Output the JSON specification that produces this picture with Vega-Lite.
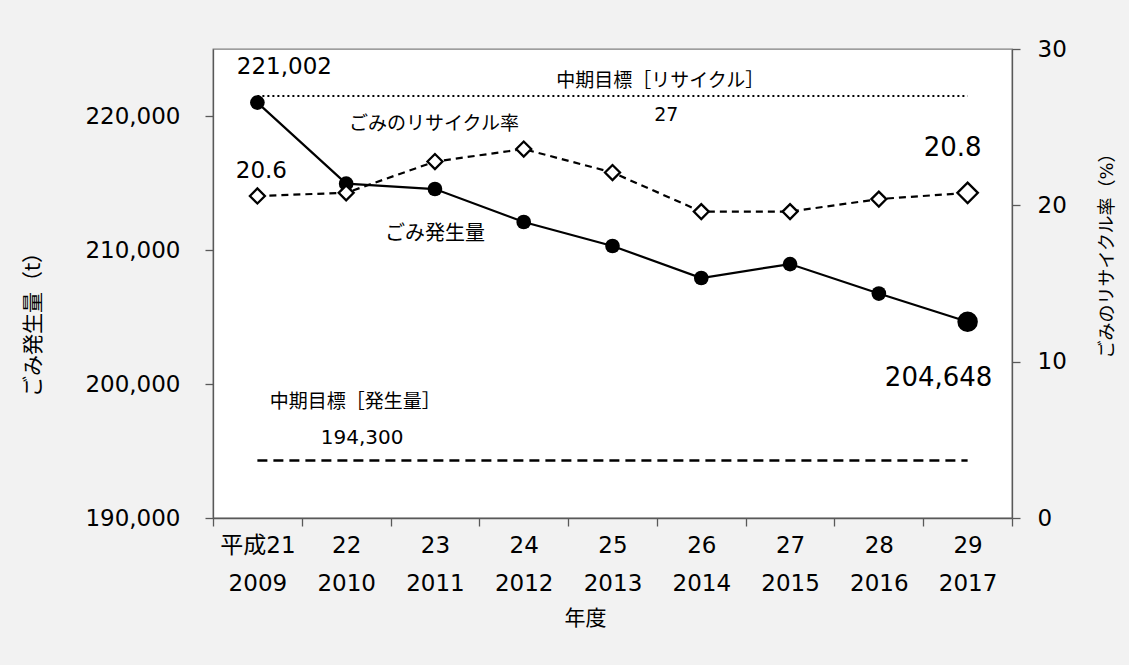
{
  "$schema": "https://vega.github.io/schema/vega-lite/v6.json",
  "width": 799,
  "height": 469,
  "autosize": {"type": "none"},
  "padding": {"left": 213, "top": 49, "right": 117, "bottom": 147},
  "background": "#f2f2f2",
  "datasets": {
    "main": [
      {"period": "平成21 2009", "gen": 221002, "rate": 20.6, "genTarget": 194300, "rateTarget": 27},
      {"period": "22 2010", "gen": 214950, "rate": 20.8, "genTarget": 194300, "rateTarget": 27},
      {"period": "23 2011", "gen": 214550, "rate": 22.8, "genTarget": 194300, "rateTarget": 27},
      {"period": "24 2012", "gen": 212090, "rate": 23.6, "genTarget": 194300, "rateTarget": 27},
      {"period": "25 2013", "gen": 210300, "rate": 22.1, "genTarget": 194300, "rateTarget": 27},
      {"period": "26 2014", "gen": 207910, "rate": 19.6, "genTarget": 194300, "rateTarget": 27},
      {"period": "27 2015", "gen": 208950, "rate": 19.6, "genTarget": 194300, "rateTarget": 27},
      {"period": "28 2016", "gen": 206750, "rate": 20.4, "genTarget": 194300, "rateTarget": 27},
      {"period": "29 2017", "gen": 204648, "rate": 20.8, "genTarget": 194300, "rateTarget": 27}
    ]
  },
  "data": {"name": "main"},
  "encoding": {
    "x": {
      "field": "period",
      "type": "nominal",
      "sort": null,
      "scale": {"type": "band", "paddingInner": 0, "paddingOuter": 0},
      "axis": {
        "title": "年度",
        "labelAngle": 0,
        "labelExpr": "split(datum.label, ' ')",
        "labelFontSize": 23,
        "labelLineHeight": 38,
        "labelPadding": 8,
        "tickBand": "extent",
        "tickSize": 8,
        "titleFontSize": 21,
        "titleX": 372,
        "titleY": 100,
        "titleAlign": "center",
        "titleBaseline": "middle"
      }
    }
  },
  "layer": [
    {
      "layer": [
        {
          "mark": {"type": "line", "color": "black", "strokeWidth": 2.5, "strokeDash": [10, 6]},
          "encoding": {
            "y": {
              "field": "genTarget",
              "type": "quantitative",
              "scale": {"domain": [190000, 225000], "zero": false, "nice": false},
              "axis": {
                "title": "ごみ発生量（t）",
                "values": [190000, 200000, 210000, 220000],
                "labelExpr": "format(datum.value, ',')",
                "labelFontSize": 23,
                "labelPadding": 25,
                "tickSize": 8,
                "titleFontSize": 21,
                "titleAngle": -90,
                "titleX": -180,
                "titleY": 270,
                "titleAlign": "center",
                "titleBaseline": "middle"
              }
            }
          }
        },
        {
          "mark": {"type": "line", "color": "black", "strokeWidth": 2.2},
          "encoding": {"y": {"field": "gen", "type": "quantitative"}}
        },
        {
          "mark": {"type": "point", "shape": "circle", "filled": true, "color": "black", "opacity": 1},
          "encoding": {
            "y": {"field": "gen", "type": "quantitative"},
            "size": {"condition": {"test": "datum.period == '29 2017'", "value": 420}, "value": 215}
          }
        },
        {
          "transform": [{"filter": "datum.period == '平成21 2009'"}],
          "mark": {"type": "text", "fontSize": 23, "dx": 27, "dy": -36, "align": "center", "baseline": "middle", "color": "black"},
          "encoding": {"y": {"field": "gen", "type": "quantitative"}, "text": {"field": "gen", "type": "quantitative", "format": ","}}
        },
        {
          "transform": [{"filter": "datum.period == '29 2017'"}],
          "mark": {"type": "text", "fontSize": 26, "dx": -29, "dy": 56, "align": "center", "baseline": "middle", "color": "black"},
          "encoding": {"y": {"field": "gen", "type": "quantitative"}, "text": {"field": "gen", "type": "quantitative", "format": ","}}
        },
        {
          "transform": [{"filter": "datum.period == '23 2011'"}],
          "mark": {"type": "text", "fontSize": 20, "dx": 0, "dy": 45, "align": "center", "baseline": "middle", "color": "black", "text": "ごみ発生量"},
          "encoding": {"y": {"field": "gen", "type": "quantitative"}}
        },
        {
          "transform": [{"filter": "datum.period == '22 2010'"}],
          "mark": {"type": "text", "fontSize": 19, "dx": 9, "dy": -58, "align": "center", "baseline": "middle", "color": "black", "text": "中期目標［発生量］"},
          "encoding": {"y": {"field": "genTarget", "type": "quantitative"}}
        },
        {
          "transform": [{"filter": "datum.period == '22 2010'"}],
          "mark": {"type": "text", "fontSize": 20, "dx": 16, "dy": -22, "align": "center", "baseline": "middle", "color": "black"},
          "encoding": {"y": {"field": "genTarget", "type": "quantitative"}, "text": {"field": "genTarget", "type": "quantitative", "format": ","}}
        }
      ]
    },
    {
      "layer": [
        {
          "mark": {"type": "line", "color": "black", "strokeWidth": 2, "strokeDash": [2, 3]},
          "encoding": {
            "y": {
              "field": "rateTarget",
              "type": "quantitative",
              "scale": {"domain": [0, 30], "nice": false},
              "axis": {
                "orient": "right",
                "title": "ごみのリサイクル率（%）",
                "values": [0, 10, 20, 30],
                "labelFontSize": 23,
                "labelPadding": 17,
                "tickSize": 8,
                "titleFontSize": 18,
                "titleAngle": -90,
                "titleX": 95,
                "titleY": 202,
                "titleAlign": "center",
                "titleBaseline": "middle"
              }
            }
          }
        },
        {
          "mark": {"type": "line", "color": "black", "strokeWidth": 2.2, "strokeDash": [7, 5]},
          "encoding": {"y": {"field": "rate", "type": "quantitative"}}
        },
        {
          "mark": {"type": "point", "shape": "diamond", "filled": false, "fill": "white", "stroke": "black", "strokeWidth": 2.3, "opacity": 1},
          "encoding": {
            "y": {"field": "rate", "type": "quantitative"},
            "size": {"condition": {"test": "datum.period == '29 2017'", "value": 420}, "value": 225}
          }
        },
        {
          "transform": [{"filter": "datum.period == '平成21 2009'"}],
          "mark": {"type": "text", "fontSize": 23, "dx": 4, "dy": -25, "align": "center", "baseline": "middle", "color": "black"},
          "encoding": {"y": {"field": "rate", "type": "quantitative"}, "text": {"field": "rate", "type": "quantitative", "format": ".1f"}}
        },
        {
          "transform": [{"filter": "datum.period == '29 2017'"}],
          "mark": {"type": "text", "fontSize": 26, "dx": -15, "dy": -45, "align": "center", "baseline": "middle", "color": "black"},
          "encoding": {"y": {"field": "rate", "type": "quantitative"}, "text": {"field": "rate", "type": "quantitative", "format": ".1f"}}
        },
        {
          "transform": [{"filter": "datum.period == '23 2011'"}],
          "mark": {"type": "text", "fontSize": 19, "dx": -1, "dy": -38, "align": "center", "baseline": "middle", "color": "black", "text": "ごみのリサイクル率"},
          "encoding": {"y": {"field": "rate", "type": "quantitative"}}
        },
        {
          "transform": [{"filter": "datum.period == '26 2014'"}],
          "mark": {"type": "text", "fontSize": 19, "dx": -41, "dy": -15, "align": "center", "baseline": "middle", "color": "black", "text": "中期目標［リサイクル］"},
          "encoding": {"y": {"field": "rateTarget", "type": "quantitative"}}
        },
        {
          "transform": [{"filter": "datum.period == '26 2014'"}],
          "mark": {"type": "text", "fontSize": 19, "dx": -35, "dy": 19, "align": "center", "baseline": "middle", "color": "black"},
          "encoding": {"y": {"field": "rateTarget", "type": "quantitative"}, "text": {"field": "rateTarget", "type": "quantitative"}}
        }
      ]
    }
  ],
  "resolve": {"scale": {"y": "independent"}},
  "config": {
    "font": "DejaVu Sans, Noto Sans CJK JP",
    "view": {"fill": "white", "stroke": "#7f7f7f", "strokeWidth": 1.3},
    "axis": {
      "grid": false,
      "domainColor": "#595959",
      "tickColor": "#595959",
      "domainWidth": 1.3,
      "tickWidth": 1.3,
      "labelColor": "black",
      "titleColor": "black",
      "titleFontWeight": "normal"
    }
  }
}
